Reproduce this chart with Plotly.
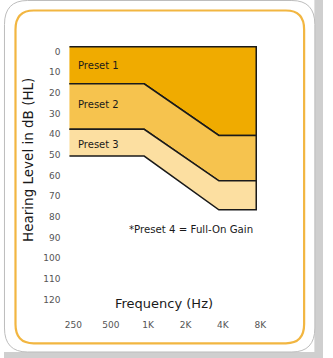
import math
import plotly.graph_objects as go

W, H = 333, 358

# Audiogram bands: upper/lower hearing-level boundaries (dB HL) at each frequency
freqs = [250, 1000, 4000, 8000]
top_level = [0, 0, 0, 0]
preset1 = [18, 18, 43, 43]
preset2 = [40, 40, 65, 65]
preset3 = [53, 53, 79, 79]
preset_names = ["Preset 1", "Preset 2", "Preset 3"]
preset_colors = ["#F0AB00", "#F6C34E", "#FCDFA1"]

freq_ticks = [250, 500, 1000, 2000, 4000, 8000]
freq_labels = ["250", "500", "1K", "2K", "4K", "8K"]
db_ticks = [0, 10, 20, 30, 40, 50, 60, 70, 80, 90, 100, 110, 120]
note_text = "*Preset 4 = Full-On Gain"

FONT = "DejaVu Sans"

# pixel geometry of the plotting frame
left_px, octave_px = 68.3, 39.0
top_px, db_px = 46.7, 2.064
bottom_px = 316.0
pad = 1.0


def px(x):
    return x / W


def py(y):
    return 1 - y / H


def rrect(x0, y0, x1, y1, r):
    pts = [
        ("M", (x0 + r, y0)), ("L", (x1 - r, y0)),
        ("Q", (x1, y0), (x1, y0 + r)), ("L", (x1, y1 - r)),
        ("Q", (x1, y1), (x1 - r, y1)), ("L", (x0 + r, y1)),
        ("Q", (x0, y1), (x0, y1 - r)), ("L", (x0, y0 + r)),
        ("Q", (x0, y0), (x0 + r, y0)),
    ]
    out = []
    for cmd, *coords in pts:
        out.append(cmd + " " + " ".join(f"{px(a):.5f},{py(b):.5f}" for a, b in coords))
    return " ".join(out) + " Z"


fig = go.Figure()

bounds = [top_level, preset1, preset2, preset3]
for i, name in enumerate(preset_names):
    upper, lower = bounds[i], bounds[i + 1]
    fig.add_trace(go.Scatter(
        x=freqs + freqs[::-1],
        y=upper + lower[::-1],
        mode="lines",
        fill="toself",
        fillcolor=preset_colors[i],
        line=dict(color="#1a1a1a", width=1.5),
        name=name,
        hoverinfo="skip",
        showlegend=False,
    ))

right_px = left_px + octave_px * 5
dlog = math.log10(2) * pad / octave_px

fig.update_xaxes(
    type="log",
    range=[math.log10(freqs[0]) - dlog, math.log10(freqs[-1]) + dlog],
    domain=[px(left_px - pad), px(right_px + pad)],
    tickvals=freq_ticks,
    ticktext=freq_labels,
    showgrid=False, zeroline=False, showline=False, ticks="",
    tickfont=dict(family=FONT, size=9, color="#555555"),
    ticklabelshift=4,
    ticklabelstandoff=2,
)
fig.update_yaxes(
    range=[(bottom_px - top_px) / db_px, -pad / db_px],
    domain=[py(bottom_px), py(top_px - pad)],
    tickvals=db_ticks,
    showgrid=False, zeroline=False, showline=False, ticks="",
    tickfont=dict(family=FONT, size=9, color="#555555"),
    ticklabelshift=-5,
    ticklabelstandoff=7,
)

shapes = [
    dict(type="rect", xref="paper", yref="paper", x0=px(324), x1=1, y0=0, y1=1,
         fillcolor="#CFCFCF", line=dict(width=0), layer="below"),
    dict(type="rect", xref="paper", yref="paper", x0=0, x1=1, y0=0, y1=py(352),
         fillcolor="#CFCFCF", line=dict(width=0), layer="below"),
    dict(type="path", xref="paper", yref="paper", path=rrect(0.5, 0.5, 324.5, 352, 24),
         fillcolor="#FFFFFF", line=dict(color="#BDBDBD", width=1), layer="below"),
    dict(type="path", xref="paper", yref="paper", path=rrect(12, 10.5, 313.3, 343.3, 19),
         fillcolor="rgba(0,0,0,0)", line=dict(color="#F2B641", width=2.2), layer="below"),
]


def label(text, x, y, size, xanchor="center", angle=0):
    return dict(text=text, x=px(x), y=py(y), xref="paper", yref="paper",
                xanchor=xanchor, yanchor="middle", textangle=angle,
                showarrow=False, font=dict(family=FONT, size=size, color="#1a1a1a"))


annotations = [
    label("Hearing Level in dB (HL)", 25, 160, 13.5, angle=-90),
    label("Frequency (Hz)", 166.5, 303, 13),
    label(note_text, 262, 229.3, 10.2, xanchor="right"),
]
for name, ypix in zip(preset_names, [65.7, 104.3, 144.3]):
    annotations.append(label(name, 75, ypix, 10, xanchor="left"))

fig.update_layout(
    width=W, height=H,
    margin=dict(l=0, r=0, t=0, b=0),
    paper_bgcolor="#FFFFFF",
    plot_bgcolor="rgba(0,0,0,0)",
    shapes=shapes,
    annotations=annotations,
    showlegend=False,
)

fig.write_html("out.html")
